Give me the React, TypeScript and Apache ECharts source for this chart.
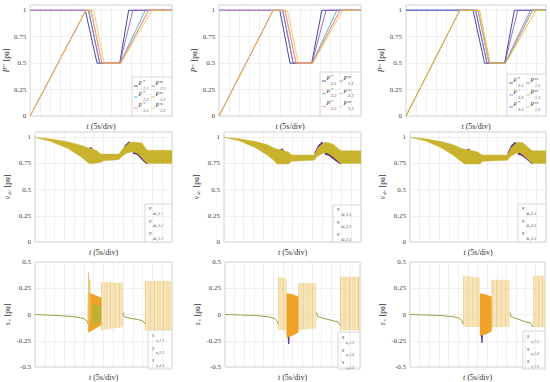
import React, { useEffect, useRef } from 'react';
import * as echarts from 'echarts';

const FONT = '"Liberation Serif", "DejaVu Serif", serif';

// ---------- Row 1 : active power P [pu] (t in s, 5 s/div, 0..70 s) ----------
const p1Star1 = [[0, 1], [27.2, 1], [33, 0.5], [44.2, 0.5], [48.6, 1], [70, 1]];
const p1Ref1 = [[0, 0], [27.5, 1], [28.8, 1], [34.3, 0.5], [44.3, 0.5], [50.7, 1], [70, 1]];
const p1Star2 = [[0, 1], [28.8, 1], [34.3, 0.5], [44.4, 0.5], [56.8, 1], [70, 1]];
const p1Ref2 = [[0, 0], [27.5, 1], [30, 1], [35.4, 0.5], [44.5, 0.5], [58.5, 1], [70, 1]];
const p1Star3 = [[0, 1], [30, 1], [35.4, 0.5], [44.6, 0.5], [58.5, 1], [70, 1]];
const p1Ref3 = [[0, 0], [27.5, 1], [31.3, 1], [36.6, 0.5], [44.8, 0.5], [60.1, 1], [70, 1]];

const p2Star1 = [[0, 1], [30, 1], [35, 0.5], [45.7, 0.5], [50.7, 1], [70, 1]];
const p2Ref1 = [[0, 0], [26.7, 1], [31.4, 1], [36.6, 0.5], [45.8, 0.5], [52.8, 1], [70, 1]];
const p2Star2 = [[0, 1], [31.4, 1], [36.6, 0.5], [45.9, 0.5], [58.1, 1], [70, 1]];
const p2Ref2 = [[0, 0], [26.7, 1], [32.5, 1], [38, 0.5], [46, 0.5], [59.7, 1], [70, 1]];
const p2Star3 = [[0, 1], [32.5, 1], [38, 0.5], [46.1, 0.5], [59.7, 1], [70, 1]];
const p2Ref3 = [[0, 0], [26.7, 1], [33.7, 1], [39.1, 0.5], [46.2, 0.5], [61.1, 1], [70, 1]];

const p3Star1 = [[0, 1], [33.5, 1], [39.3, 0.5], [49.3, 0.5], [54.2, 1], [70, 1]];
const p3Ref1 = [[0, 0], [26.9, 1], [34.8, 1], [40.5, 0.5], [49.4, 0.5], [55.9, 1], [70, 1]];
const p3Star2 = [[0, 1], [34.8, 1], [40.5, 0.5], [49.5, 0.5], [62.2, 1], [70, 1]];
const p3Ref2 = [[0, 0], [26.9, 1], [36, 1], [41.5, 0.5], [49.6, 0.5], [63.3, 1], [70, 1]];
const p3Star3 = [[0, 1], [36, 1], [41.5, 0.5], [49.7, 0.5], [63.3, 1], [70, 1]];
const p3Ref3 = [[0, 0], [26.9, 1], [36.8, 1], [42.1, 0.5], [49.8, 0.5], [65, 1], [70, 1]];

// ---------- Row 2 : DC voltage envelopes v_dc [pu] ----------
const vUp1 = [[0, 1], [8, 0.984], [16.5, 0.958], [23, 0.927], [27, 0.9], [30, 0.885], [31.7, 0.87], [33.4, 0.84], [42.8, 0.84], [45.3, 0.9], [47.9, 0.945], [50.4, 0.955], [54.7, 0.945], [56.7, 0.89], [57.5, 0.875], [70, 0.875]];
const vLo1 = [[0, 1], [8, 0.96], [16.5, 0.895], [23.3, 0.815], [27, 0.76], [28.4, 0.745], [33.4, 0.76], [35, 0.775], [42.8, 0.785], [44.5, 0.815], [47, 0.85], [49.6, 0.86], [52.1, 0.85], [54.7, 0.8], [57.2, 0.75], [70, 0.75]];
const vUp2 = [[0, 1], [8, 0.985], [16, 0.96], [22, 0.93], [26.3, 0.89], [29, 0.88], [33, 0.86], [34.5, 0.83], [46, 0.83], [48, 0.9], [51, 0.95], [53, 0.95], [56, 0.93], [59, 0.88], [60, 0.87], [70, 0.87]];
const vLo2 = [[0, 1], [8, 0.965], [16, 0.9], [22, 0.83], [26, 0.77], [27, 0.745], [33, 0.745], [34.5, 0.77], [46, 0.78], [48, 0.82], [51, 0.85], [53, 0.85], [56, 0.81], [59, 0.76], [60, 0.75], [70, 0.75]];
const vUp3 = [[0, 1], [8, 0.985], [16, 0.96], [22, 0.93], [27, 0.89], [30, 0.88], [35, 0.86], [37, 0.83], [50, 0.83], [52, 0.9], [55, 0.95], [58, 0.95], [61, 0.9], [63, 0.87], [70, 0.87]];
const vLo3 = [[0, 1], [8, 0.965], [16, 0.9], [22, 0.83], [27, 0.76], [28, 0.745], [36, 0.745], [37.5, 0.77], [50, 0.78], [52, 0.82], [55, 0.85], [57, 0.85], [60, 0.8], [63, 0.75], [70, 0.75]];

const vBump1 = [[27.6, 0.87], [28.5, 0.9], [29.4, 0.87]];
const vArcA1 = [[44.5, 0.84], [46.5, 0.92], [48.5, 0.953]];
const vArcB1 = [[50, 0.855], [52.5, 0.84], [55, 0.79], [57.4, 0.75]];
const vBump2 = [[28.5, 0.86], [29.5, 0.885], [30.5, 0.86]];
const vArcA2 = [[46.5, 0.84], [48.5, 0.915], [50.5, 0.95]];
const vArcB2 = [[51.5, 0.845], [54, 0.83], [57, 0.785], [59.8, 0.75]];
const vBump3 = [[29, 0.86], [30, 0.885], [31, 0.86]];
const vArcA3 = [[50.5, 0.84], [52.5, 0.915], [54.5, 0.95]];
const vArcB3 = [[55.5, 0.845], [58, 0.83], [61, 0.785], [63.2, 0.75]];

// ---------- Row 3 : s_x [pu] ----------
const sBase1 = [[0, 0], [6, -0.005], [12, -0.01], [18, -0.018], [22, -0.027], [25, -0.04], [26.5, -0.06], [27.2, -0.09]];
const sMid1 = [[45, 0.02], [45.5, -0.02], [47, -0.03], [50, -0.04], [53, -0.05], [55, -0.06], [56.2, -0.09]];
const sOrangeUp1 = [[27.2, 0.21], [28.5, 0.2], [31, 0.18], [33.8, 0.16]];
const sOrangeLo1 = [[27.2, -0.17], [28.5, -0.16], [31, -0.13], [33.8, -0.1]];
const sGreenUp1 = [[29.5, 0.1], [33.5, 0.08]];
const sGreenLo1 = [[29.5, -0.1], [33.5, -0.07]];
const sSpike1 = [[27.1, -0.08], [27.4, 0.4], [27.7, -0.1], [28, 0.33], [28.3, -0.05]];
const sStripesA1 = { up: [[33.8, 0.31], [45, 0.3]], lo: [[33.8, -0.15], [45, -0.12]] };
const sStripesB1 = { up: [[56.2, 0.32], [70, 0.32]], lo: [[56.2, -0.15], [70, -0.15]] };

const sBase2 = [[0, 0], [8, -0.005], [16, -0.01], [22, -0.02], [25.5, -0.035], [27, -0.06], [27.6, -0.09]];
const sMid2 = [[47.5, 0.02], [48, -0.02], [50, -0.03], [53, -0.045], [56, -0.06], [58.5, -0.07], [59.6, -0.1]];
const sOrangeUp2 = [[32, 0.2], [35, 0.19], [38, 0.17]];
const sOrangeLo2 = [[32, -0.22], [35, -0.2], [38, -0.17]];
const sDip2 = [[32.5, -0.1], [33, -0.28], [33.5, -0.1]];
const sStripesA2 = { up: [[27.6, 0.36], [32, 0.34]], lo: [[27.6, -0.15], [32, -0.15]] };
const sStripesB2 = { up: [[38, 0.3], [47.5, 0.3]], lo: [[38, -0.15], [47.5, -0.13]] };
const sStripesC2 = { up: [[59.6, 0.36], [70, 0.36]], lo: [[59.6, -0.15], [70, -0.15]] };

const sBase3 = [[0, 0], [8, -0.005], [16, -0.01], [22, -0.02], [25.5, -0.035], [27, -0.06], [27.6, -0.09]];
const sMid3 = [[51.8, 0.02], [52.3, -0.02], [54, -0.03], [57, -0.05], [60, -0.07], [62.5, -0.08], [63.9, -0.12]];
const sOrangeUp3 = [[36.3, 0.2], [39, 0.19], [42.3, 0.17]];
const sOrangeLo3 = [[36.3, -0.2], [39, -0.19], [42.3, -0.16]];
const sDip3 = [[36.8, -0.1], [37.3, -0.27], [37.8, -0.1]];
const sStripesA3 = { up: [[27.6, 0.37], [36.3, 0.35]], lo: [[27.6, -0.12], [36.3, -0.12]] };
const sStripesB3 = { up: [[42.3, 0.33], [51.8, 0.33]], lo: [[42.3, -0.12], [51.8, -0.12]] };
const sStripesC3 = { up: [[63.9, 0.37], [70, 0.37]], lo: [[63.9, -0.12], [70, -0.12]] };

// ---------- layout (styling only) ----------
const GRIDS = [
  { left: 30, top: 5, width: 142, height: 111 },
  { left: 219, top: 5, width: 142, height: 111 },
  { left: 406, top: 5, width: 140, height: 111 },
  { left: 35, top: 132, width: 137, height: 110 },
  { left: 224, top: 132, width: 137, height: 110 },
  { left: 410, top: 132, width: 136, height: 110 },
  { left: 35, top: 262, width: 137, height: 107 },
  { left: 225, top: 262, width: 135, height: 107 },
  { left: 410, top: 262, width: 135, height: 107 },
];

const COL_P = ['#33338f', '#9060d0', '#48acd8', '#f2a44c', '#f07ccc', '#eac870'];
const COL_P3 = ['#33338f', '#7d62d8', '#6a86e2', '#e8b050', '#7070e4', '#d2bc3c'];
const OLIVE = '#c9b32d';
const PURPLE = '#5b2d91';

function lineS(i: number, data: number[][], color: string, width = 1, z = 2) {
  return {
    type: 'line', xAxisIndex: i, yAxisIndex: i, data, showSymbol: false, symbol: 'none',
    silent: true, z, lineStyle: { color, width }, itemStyle: { color },
  };
}

function bandS(i: number, up: number[][], lo: number[][], fill: string, opacity = 1, z = 1) {
  return {
    type: 'custom', xAxisIndex: i, yAxisIndex: i, silent: true, z, clip: true,
    data: [up[0]],
    renderItem: (_p: any, api: any) => {
      const pts = up.map((p) => api.coord(p)).concat(lo.slice().reverse().map((p) => api.coord(p)));
      return { type: 'polygon', shape: { points: pts }, style: { fill, stroke: fill, lineWidth: 0.4, opacity } };
    },
  };
}

function stripeS(i: number, b: { up: number[][]; lo: number[][] }, z = 1) {
  return {
    type: 'custom', xAxisIndex: i, yAxisIndex: i, silent: true, z, clip: true,
    data: [b.up[0]],
    renderItem: (_p: any, api: any) => {
      const u0 = api.coord(b.up[0]);
      const u1 = api.coord(b.up[1]);
      const l0 = api.coord(b.lo[0]);
      const l1 = api.coord(b.lo[1]);
      const children: any[] = [
        { type: 'polygon', shape: { points: [u0, u1, l1, l0] }, style: { fill: 'rgba(248,232,185,0.6)' } },
      ];
      // hatch style to mimic dense oscillation
      let k = 0;
      for (let x = u0[0] + 0.5; x <= u1[0]; x += 1.5) {
        const f = (x - u0[0]) / Math.max(1e-6, u1[0] - u0[0]);
        const yt = u0[1] + f * (u1[1] - u0[1]);
        const yb = l0[1] + f * (l1[1] - l0[1]);
        children.push({
          type: 'line', shape: { x1: x, y1: yt, x2: x, y2: yb },
          style: { stroke: k % 3 === 0 ? '#e6b65a' : '#f0d28c', lineWidth: 0.6 },
        });
        k++;
      }
      return { type: 'group', children };
    },
  };
}

function App() {
  const ref = useRef<HTMLDivElement>(null);
  useEffect(() => {
    document.body.style.margin = '0';
    const chart = echarts.init(ref.current!, null, { renderer: 'svg' });

    const xAxes = GRIDS.map((_g, i) => ({
      gridIndex: i, type: 'value', min: 0, max: 70, interval: 5,
      axisLabel: { show: false }, axisTick: { show: false }, axisLine: { show: false },
      splitLine: { show: true, lineStyle: { color: '#e6e6e6', width: 0.6 } },
      name: '{i|t} (5s/div)', nameLocation: 'middle', nameGap: 6,
      nameTextStyle: {
        fontFamily: FONT, fontSize: 8, color: '#333',
        rich: { i: { fontFamily: FONT, fontSize: 8, fontStyle: 'italic', color: '#333' } },
      },
    }));

    const yNames = ['{i|P}{s|m} [pu]', '{i|v}{d|dc} [pu]', '{i|s}{d|x} [pu]'];
    const yAxes = GRIDS.map((_g, i) => {
      const r = Math.floor(i / 3);
      const isS = r === 2;
      return {
        gridIndex: i, type: 'value', min: isS ? -0.5 : 0, max: isS ? 0.5 : 1.05, interval: 0.25,
        axisLine: { show: false }, axisTick: { show: false },
        splitLine: { show: true, lineStyle: { color: '#e6e6e6', width: 0.6 } },
        axisLabel: {
          fontFamily: FONT, fontSize: 7, color: '#444', margin: 4,
          formatter: (v: number) => (v > 1.01 ? '' : String(v)),
        },
        name: yNames[r], nameLocation: 'middle', nameGap: r === 0 ? 18 : 23,
        nameTextStyle: {
          fontFamily: FONT, fontSize: 7.5, color: '#333',
          rich: {
            i: { fontFamily: FONT, fontSize: 7.5, fontStyle: 'italic', color: '#333' },
            s: { fontFamily: FONT, fontSize: 5, fontStyle: 'italic', color: '#333', padding: [0, 1, 5, 0] },
            d: { fontFamily: FONT, fontSize: 5, fontStyle: 'italic', color: '#333', padding: [5, 1, 0, 1] },
          },
        },
      };
    });

    const series: any[] = [];
    // Row 1
    const pSets = [
      [p1Star1, p1Ref1, p1Star2, p1Ref2, p1Star3, p1Ref3],
      [p2Star1, p2Ref1, p2Star2, p2Ref2, p2Star3, p2Ref3],
      [p3Star1, p3Ref1, p3Star2, p3Ref2, p3Star3, p3Ref3],
    ];
    pSets.forEach((set, c) => {
      const cols = c === 2 ? COL_P3 : COL_P;
      const order = c === 2 ? [0, 2, 4, 1, 3, 5] : [0, 2, 4, 1, 5, 3];
      order.forEach((k, n) => series.push(lineS(c, set[k], cols[k], 0.9, 2 + n)));
    });
    // Row 2
    const vSets = [
      [vUp1, vLo1, vBump1, vArcA1, vArcB1],
      [vUp2, vLo2, vBump2, vArcA2, vArcB2],
      [vUp3, vLo3, vBump3, vArcA3, vArcB3],
    ];
    vSets.forEach((s, c) => {
      const i = 3 + c;
      series.push(lineS(i, s[2], PURPLE, 2, 1));
      series.push(lineS(i, s[3], PURPLE, 2.2, 1));
      series.push(lineS(i, s[4], PURPLE, 2.2, 1));
      series.push(bandS(i, s[0], s[1], OLIVE, 1, 2));
    });
    // Row 3
    const r3 = [
      { base: sBase1, mid: sMid1, stripes: [sStripesA1, sStripesB1], oUp: sOrangeUp1, oLo: sOrangeLo1, dip: null as any },
      { base: sBase2, mid: sMid2, stripes: [sStripesA2, sStripesB2, sStripesC2], oUp: sOrangeUp2, oLo: sOrangeLo2, dip: sDip2 },
      { base: sBase3, mid: sMid3, stripes: [sStripesA3, sStripesB3, sStripesC3], oUp: sOrangeUp3, oLo: sOrangeLo3, dip: sDip3 },
    ];
    r3.forEach((p, c) => {
      const i = 6 + c;
      p.stripes.forEach((b) => series.push(stripeS(i, b, 1)));
      if (p.dip) series.push(lineS(i, p.dip, '#5a3aa8', 1.2, 2));
      series.push(bandS(i, p.oUp, p.oLo, '#f0a228', 1, 3));
      series.push(lineS(i, p.base, '#96a040', 1, 4));
      series.push(lineS(i, p.mid, '#96a040', 1, 4));
    });
    series.push(bandS(6, sGreenUp1, sGreenLo1, '#a9b83a', 0.75, 4));
    series.push(lineS(6, sSpike1, '#e8c060', 0.8, 4));

    // ---------- legends (graphic) ----------
    const graphic: any[] = [];
    const txt = (x: number, y: number, text: string, size: number, italic = true) => ({
      type: 'text', x, y,
      style: { text, fontFamily: FONT, fontSize: size, fontStyle: italic ? 'italic' : 'normal', fill: '#333', verticalAlign: 'top' },
    });
    const pBoxes = [
      { x: 132, y: 77, w: 40, h: 39 },
      { x: 320, y: 72, w: 41, h: 44 },
      { x: 507, y: 74, w: 39, h: 42 },
    ];
    pBoxes.forEach((b, c) => {
      const cols = c === 2 ? COL_P3 : COL_P;
      const children: any[] = [
        { type: 'rect', shape: { x: 0, y: 0, width: b.w, height: b.h }, style: { fill: '#fff', stroke: '#bdbdbd', lineWidth: 0.6 } },
      ];
      const step = (b.h - 6) / 3;
      for (let r = 0; r < 3; r++) {
        for (let k = 0; k < 2; k++) {
          const cx = k === 0 ? 2 : 19;
          const ry = 3 + r * step;
          children.push({ type: 'line', shape: { x1: cx, y1: ry + 6, x2: cx + 4, y2: ry + 6 }, style: { stroke: cols[r * 2 + k], lineWidth: 0.8 } });
          children.push(txt(cx + 4.5, ry, 'P', 6));
          children.push(txt(cx + 9, ry - 1, k === 0 ? '*' : 'm', 4.5, k !== 0));
          children.push(txt(cx + 9, ry + 6, `${c + 1}.${r + 1}`, 4.2));
        }
      }
      graphic.push({ type: 'group', x: b.x, y: b.y, z: 100, children });
    });
    const vBoxes = [
      { x: 145, y: 204, w: 27, h: 38 },
      { x: 333, y: 205, w: 28, h: 37 },
      { x: 518, y: 204, w: 28, h: 38 },
    ];
    vBoxes.forEach((b, c) => {
      const children: any[] = [
        { type: 'rect', shape: { x: 0, y: 0, width: b.w, height: b.h }, style: { fill: '#fff', stroke: '#bdbdbd', lineWidth: 0.6 } },
      ];
      for (let r = 0; r < 3; r++) {
        const ry = 1 + r * 12.5;
        children.push(txt(4, ry, 'v', 5.5));
        children.push(txt(8, ry + 6, `dc,${c + 1}.${r + 1}`, 4.2));
      }
      graphic.push({ type: 'group', x: b.x, y: b.y, z: 100, children });
    });
    const sBoxes = [
      { x: 148, y: 330, w: 24, h: 39 },
      { x: 338, y: 332, w: 22, h: 37 },
      { x: 523, y: 331, w: 22, h: 38 },
    ];
    sBoxes.forEach((b, c) => {
      const children: any[] = [
        { type: 'rect', shape: { x: 0, y: 0, width: b.w, height: b.h }, style: { fill: '#fff', stroke: '#bdbdbd', lineWidth: 0.6 } },
      ];
      for (let r = 0; r < 3; r++) {
        const ry = 2 + r * 12.5;
        children.push(txt(4, ry, 's', 5.5));
        children.push(txt(8, ry + 6, `x,${c + 1}.${r + 1}`, 4.2));
      }
      graphic.push({ type: 'group', x: b.x, y: b.y, z: 100, children });
    });

    chart.setOption({
      animation: false,
      backgroundColor: '#ffffff',
      grid: GRIDS.map((g) => ({ ...g, show: true, borderColor: '#c4c4c4', borderWidth: 0.8, backgroundColor: 'transparent' })),
      xAxis: xAxes,
      yAxis: yAxes,
      series,
      graphic,
    });
    return () => chart.dispose();
  }, []);
  return <div ref={ref} style={{ width: 550, height: 382 }} />;
}

export default App;
